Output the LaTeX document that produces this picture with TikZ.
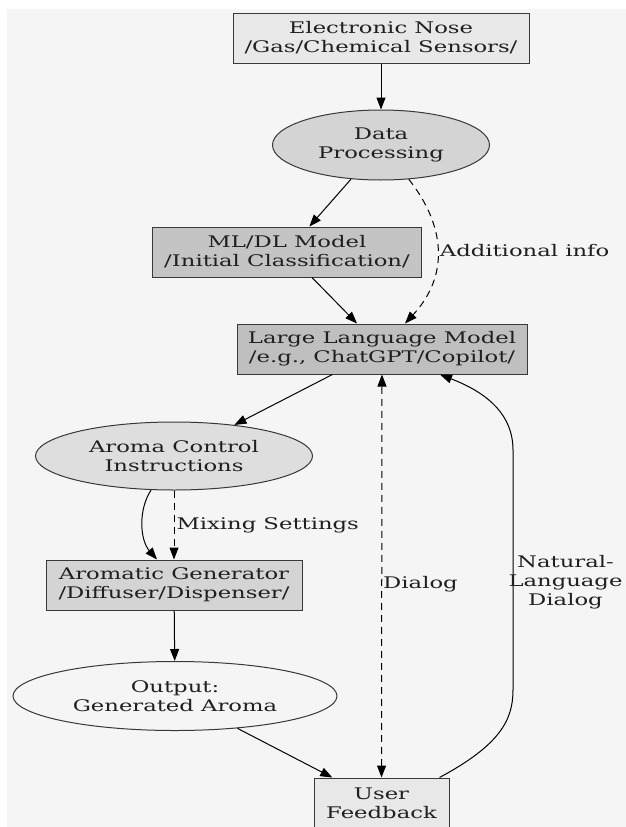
\documentclass[tikz,border=0pt]{standalone}
\usepackage{fontspec}
\setmainfont{DejaVu Serif}[FakeStretch=1.42]
\usepackage{tikz}
\usetikzlibrary{arrows.meta,shapes.geometric}
\tikzstyle{block}=[rectangle,draw=black!78,line width=1pt,text=black!88,
inner sep=0pt,align=center,minimum height=50pt]
\tikzstyle{oval}=[ellipse,draw=black!78,line width=1pt,text=black!88,
inner sep=0pt,align=center]
\tikzstyle{lbl}=[inner sep=0pt,text=black!88,align=center]
\tikzstyle{dashy}=[dash pattern=on 7pt off 5pt]

\begin{document}
\begin{tikzpicture}[x=1pt,y=-1pt,line width=1pt,>={Triangle[length=12pt,width=9pt]},
	font=\fontsize{16pt}{19pt}\selectfont]
	
	\useasboundingbox (0,0) rectangle (626,827);
	\fill [white] (0,0) rectangle (626,827);
	\fill [black!4] (7,9) rectangle (626,827);
	
	\node  (nose)  at (381,38)  [block,fill=black!9,minimum width=296pt] {Electronic Nose\\/Gas/Chemical Sensors/};
	\node  (proc)  at (381,145) [oval,fill=black!17,minimum width=217pt,minimum height=70pt] {Data\\Processing};
	\node  (ml)    at (287,252) [block,fill=black!23,minimum width=269pt] {ML/DL Model\\/Initial Classification/};
	\node  (llm)   at (382,349) [block,fill=black!25,minimum width=290pt] {Large Language Model\\/e.g., ChatGPT/Copilot/};
	\node  (instr) at (174,456) [oval,fill=black!13,minimum width=277pt,minimum height=68pt] {Aroma Control\\Instructions};
	\node  (gen)   at (174,585) [block,fill=black!17,minimum width=256pt] {Aromatic Generator\\/Diffuser/Dispenser/};
	\node  (out)   at (175,696) [oval,fill=black!4,minimum width=324pt,minimum height=69pt] {Output:\\Generated Aroma};
	\node  (user)  at (381.5,803) [block,fill=black!9,minimum width=135pt] {User\\Feedback};
	
	\draw [->] (nose) to (proc);
	\draw [->] (proc) to (ml);
	\draw [->,dashy] (proc.-51) .. controls (445,225) and (450,275) .. node [lbl,right=2pt] {Additional info} ([xshift=23pt]llm.north);
	\draw [->] (ml) to (llm);
	\draw [->] (llm) to (instr);
	\draw [->] (instr.-124) .. controls (138,510) and (140,540) .. ([xshift=-17pt]gen.north);
	\draw [->,dashy] (instr) to node [lbl,right=2pt] {Mixing Settings} (gen);
	\draw [->] (gen) to (out);
	\draw [->] (out) to (user);
	\draw [<->,dashy] (user) to node [lbl,right=1pt,pos=0.48] {Dialog} (llm);
	\draw [->] ([xshift=58pt]user.north) .. controls (500,745) and (513,720) .. (513,690)
		-- node [lbl,right=-5pt,pos=0.45] {Natural-\\Language\\Dialog} (513,450)
		.. controls (513,410) and (480,390) .. ([xshift=58pt]llm.south);
	
\end{tikzpicture}
\end{document}
